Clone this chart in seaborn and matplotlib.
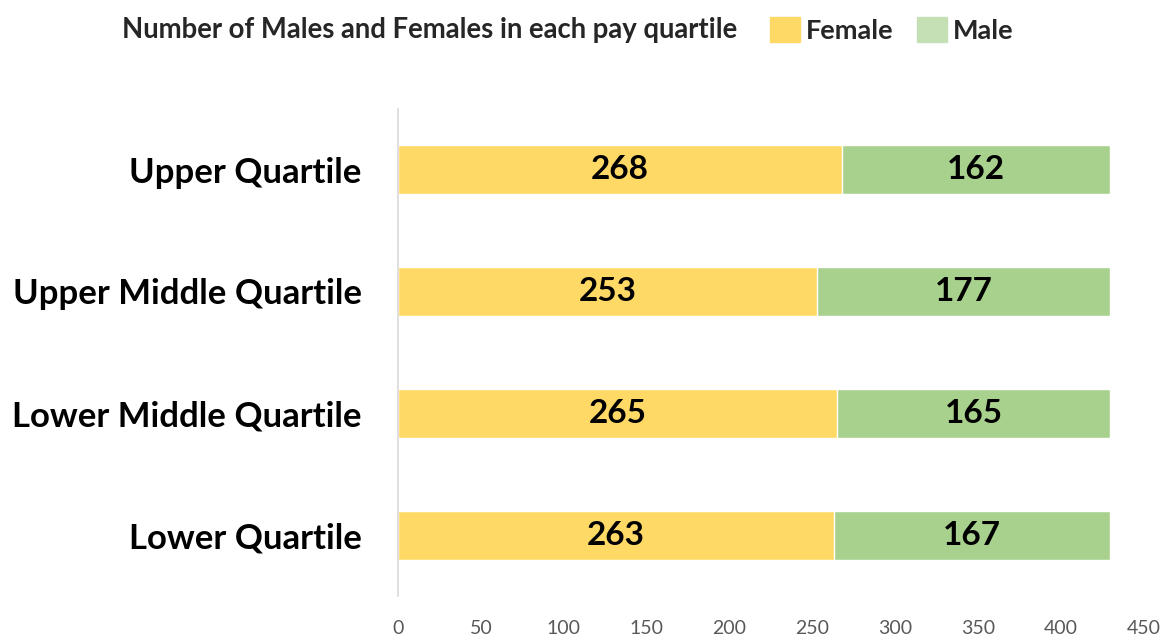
import pandas as pd
import matplotlib.pyplot as plt
import seaborn as sns
from matplotlib.patches import Patch

# Data
quartiles = ["Upper Quartile", "Upper Middle Quartile", "Lower Middle Quartile", "Lower Quartile"]
female = [268, 253, 265, 263]
male = [162, 177, 165, 167]
ticks = [0, 50, 100, 150, 200, 250, 300, 350, 400, 450]

df = pd.DataFrame({"quartile": quartiles, "female": female, "male": male})
df["total"] = df["female"] + df["male"]

female_col = "#FFD966"
male_col = "#A9D18E"

sns.set_theme(style="white")
plt.rcParams['font.family'] = ['Lato', 'DejaVu Sans']

fig = plt.figure(figsize=(11.74, 6.39), dpi=100)
ax = fig.add_axes([0.339, 0.067, 0.635, 0.763])

# stacked: total bar in male colour, female drawn on top
sns.barplot(data=df, x="total", y="quartile", color=male_col, width=0.4,
            saturation=1, ax=ax, orient="h")
sns.barplot(data=df, x="female", y="quartile", color=female_col, width=0.4,
            saturation=1, ax=ax, orient="h")

# value labels
for i, (f, m) in enumerate(zip(female, male)):
    ax.text(f / 2, i, str(f), ha="center", va="center", fontsize=24, fontweight="bold", color="black")
    ax.text(f + m / 2, i, str(m), ha="center", va="center", fontsize=24, fontweight="bold", color="black")

ax.set_xlim(0, 450)
ax.set_xticks(ticks)
ax.set_xticklabels([str(t) for t in ticks], fontsize=14, color="#595959")
ax.set_xlabel("")
ax.set_ylabel("")
ax.tick_params(axis="x", length=0, pad=17)
ax.tick_params(axis="y", length=0, pad=26)
for lbl in ax.get_yticklabels():
    lbl.set_fontsize(25)
    lbl.set_fontweight("bold")
    lbl.set_color("black")

for s in ["top", "right", "bottom"]:
    ax.spines[s].set_visible(False)
ax.spines["left"].set_color("#D9D9D9")
ax.spines["left"].set_linewidth(1.2)

# title + legend in one row at the top
fig.text(0.104, 0.953, "Number of Males and Females in each pay quartile",
         fontsize=19.8, fontweight="bold", color="#262626", va="center")
handles = [Patch(color=female_col, label="Female"), Patch(color="#C5E0B4", label="Male")]
fig.legend(handles=handles, loc="center left", bbox_to_anchor=(0.6355, 0.953), ncol=2,
           frameon=False, prop={"size": 19.5, "weight": "bold"},
           handlelength=1.1, handleheight=1.0, columnspacing=0.85, handletextpad=0.22,
           labelcolor="#262626")

fig.savefig("out.png", dpi=100)
